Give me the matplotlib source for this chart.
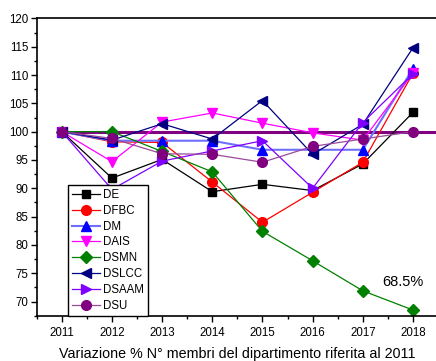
import matplotlib
matplotlib.use("Agg")
import matplotlib.pyplot as plt
from matplotlib.ticker import MultipleLocator

plt.rcParams['font.family'] = ['Liberation Sans', 'DejaVu Sans']

years = [2011, 2012, 2013, 2014, 2015, 2016, 2017, 2018]
DE    = [100, 91.8, 95.1, 89.4, 90.7, 89.6, 94.3, 103.4]
DFBC  = [100, 98.2, 98.1, 91.1, 84.0, 89.3, 94.6, 110.3]
DM    = [100, 98.4, 98.4, 98.4, 96.8, 96.8, 96.8, 111.1]
DAIS  = [100, 94.7, 101.7, 103.3, 101.5, 99.8, 98.5, 110.3]
DSMN  = [100, 100.0, 96.5, 92.9, 82.4, 77.2, 71.9, 68.5]
DSLCC = [100, 98.5, 101.4, 98.7, 105.5, 96.0, 101.3, 114.8]
DSAAM = [100, 89.8, 94.8, 96.6, 98.4, 90.0, 101.6, 110.2]
DSU   = [100, 98.8, 96.1, 96.0, 94.6, 97.4, 98.7, 100.0]
baseline = 100
annotation = "68.5%"
xlabel = "Variazione % N° membri del dipartimento riferita al 2011"

series = [
    ("DE", DE, "#000000", "#000000", "s"),
    ("DFBC", DFBC, "#FF0000", "#FF0000", "o"),
    ("DM", DM, "#0000FF", "#6F6FFF", "^"),
    ("DAIS", DAIS, "#FF00FF", "#FF00FF", "v"),
    ("DSMN", DSMN, "#008000", "#008000", "D"),
    ("DSLCC", DSLCC, "#000080", "#000080", "<"),
    ("DSAAM", DSAAM, "#8000FF", "#8000FF", ">"),
    ("DSU", DSU, "#800080", "#9A4A9A", "o"),
]

fig = plt.figure(figsize=(4.36, 3.61), dpi=100)
ax = fig.add_axes([0.0842, 0.1255, 0.9204, 0.8235])

ax.plot([years[0], 2018.5], [baseline, baseline], color="#800080", lw=2.2, zorder=1)

for name, vals, mc, lc, mk in series:
    ms = 6.5 if mk in ("s", "D") else 7
    if mk == "D":
        ms = 5.8
    if mk == "s":
        ms = 5.5
    lw = 1.5 if name == "DM" else 0.9
    ax.plot(years, vals, color=lc, lw=lw, marker=mk, markersize=ms,
            markerfacecolor=mc, markeredgecolor=mc, label=name, zorder=2)

ax.set_xlim(2010.5, 2018.5)
ax.set_ylim(67.5, 120)
ax.xaxis.set_major_locator(MultipleLocator(1))
ax.xaxis.set_minor_locator(MultipleLocator(0.5))
ax.yaxis.set_major_locator(MultipleLocator(5))
ax.yaxis.set_minor_locator(MultipleLocator(2.5))
ax.set_yticks([70, 75, 80, 85, 90, 95, 100, 105, 110, 115, 120])
ax.tick_params(which="major", direction="out", length=4, width=1, labelsize=8.3, pad=2)
ax.tick_params(which="minor", direction="out", length=2.5, width=1)
ax.tick_params(axis="x", pad=4)
for s in ["left", "bottom", "top"]:
    ax.spines[s].set_linewidth(1.2)
ax.spines["right"].set_visible(False)

ax.set_xlabel(xlabel, fontsize=10.3, labelpad=6)

ax.text(2017.8, 73.5, annotation, fontsize=10.5, ha="center", va="center")

leg = ax.legend(loc="lower left", bbox_to_anchor=(0.078, 0.0), fontsize=8.3,
                frameon=True, fancybox=False, edgecolor="black", framealpha=1,
                handlelength=2.4, labelspacing=0.33, borderpad=0.35,
                handletextpad=0.3, borderaxespad=0.0)
leg.get_frame().set_linewidth(1.0)

fig.savefig("out.png", dpi=100)
